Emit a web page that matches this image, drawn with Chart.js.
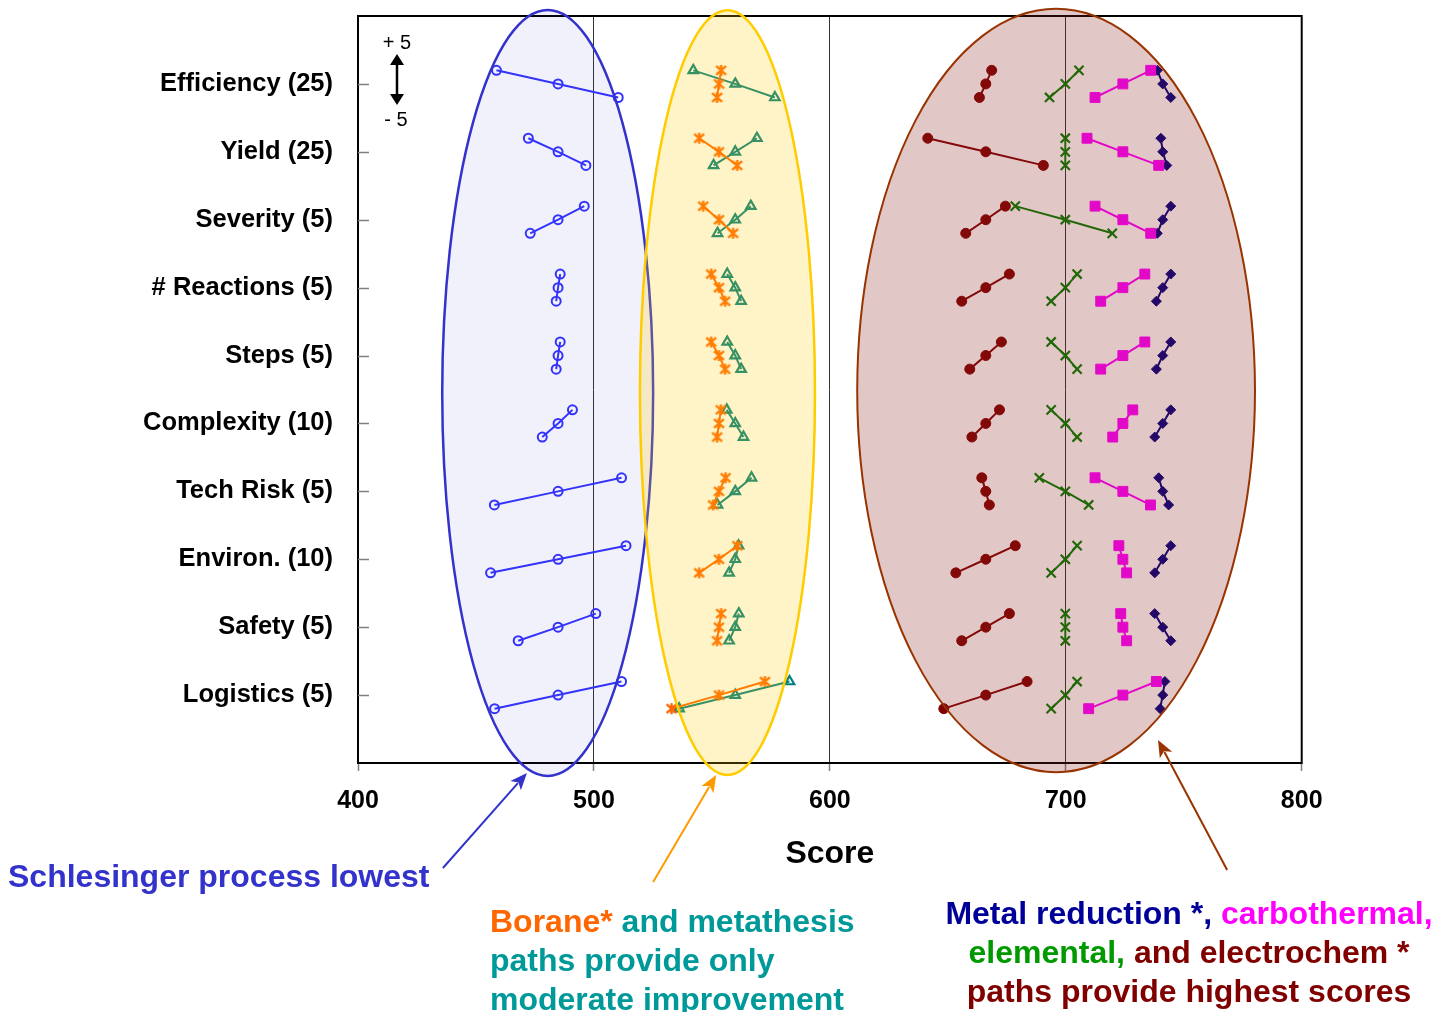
<!DOCTYPE html>
<html>
<head>
<meta charset="utf-8">
<script src="https://cdn.jsdelivr.net/npm/chart.js@4.4.1/dist/chart.umd.min.js"></script>
<style>
  html, body { margin: 0; padding: 0; background: #ffffff; overflow: hidden; }
  #wrap { position: relative; width: 1437px; height: 1012px; }
</style>
</head>
<body>
<div id="wrap"><canvas id="chart" width="1437" height="1012"></canvas></div>
<script>
// ---- data -------------------------------------------------------------
const categories = [
  'Efficiency (25)', 'Yield (25)', 'Severity (5)', '# Reactions (5)', 'Steps (5)',
  'Complexity (10)', 'Tech Risk (5)', 'Environ. (10)', 'Safety (5)', 'Logistics (5)'
];
const xTickValues = [400, 500, 600, 700, 800];

const seriesNames = ['Schlesinger', 'Borane', 'Metathesis', 'Electrochem', 'Elemental', 'Carbothermal', 'Metal reduction'];
// score with the default weights
const baseScores = [484.8, 553.0, 559.9, 666.1, 699.8, 724.2, 741.1];

// score when the criterion weight is raised by 5 / lowered by 5
const schlesingerPlus5  = [458.7, 472.2, 495.9, 485.7, 485.7, 490.9, 511.7, 513.6, 500.8, 511.7];
const schlesingerMinus5 = [510.3, 496.6, 473.0, 484.0, 484.0, 478.1, 457.8, 456.2, 467.9, 457.9];

const boranePlus5  = [553.9, 544.6, 546.3, 549.7, 549.7, 553.8, 555.8, 560.8, 553.9, 572.5];
const boraneMinus5 = [552.2, 560.7, 559.0, 555.6, 555.6, 552.2, 550.5, 544.6, 552.2, 532.9];

const metathesisPlus5  = [542.1, 569.1, 566.5, 556.5, 556.5, 556.3, 566.8, 561.3, 561.4, 582.9];
const metathesisMinus5 = [576.7, 550.7, 552.4, 562.4, 562.4, 563.4, 552.4, 557.3, 557.3, 536.1];

const electrochemPlus5  = [668.6, 641.5, 674.4, 676.1, 672.7, 671.9, 664.4, 678.6, 676.1, 683.6];
const electrochemMinus5 = [663.4, 690.5, 657.6, 655.9, 659.3, 660.2, 667.6, 653.4, 655.9, 648.3];

const elementalPlus5  = [705.6, 699.8, 678.6, 704.8, 693.8, 693.8, 688.8, 704.8, 699.8, 704.8];
const elementalMinus5 = [693.1, 699.8, 719.7, 693.8, 704.8, 704.8, 709.7, 693.8, 699.8, 693.8];

const carbothermalPlus5  = [736.0, 709.0, 712.4, 733.5, 733.5, 728.4, 712.4, 722.5, 723.3, 738.4];
const carbothermalMinus5 = [712.4, 739.4, 736.0, 714.8, 714.8, 719.9, 735.9, 725.8, 725.8, 709.7];

const metalRedPlus5  = [738.8, 740.3, 744.5, 744.5, 744.5, 744.5, 739.4, 744.5, 737.7, 742.0];
const metalRedMinus5 = [744.5, 742.8, 738.8, 738.4, 738.4, 737.7, 743.6, 737.7, 744.5, 740.0];

// ---- layout constants -------------------------------------------------
const WEIGHT_OFFSET = 0.2;          // vertical spread of the +5 / -5 points inside a row
const FONT = '"Liberation Sans", Arial, Helvetica, sans-serif';

// asterisk marker: an "x" crossed by a vertical stroke
function asteriskMarker(color, size, lw) {
  const c = document.createElement('canvas');
  c.width = size; c.height = size;
  const g = c.getContext('2d');
  g.strokeStyle = color; g.lineWidth = lw;
  const m = size / 2, a = size / 2 - 1;
  g.beginPath();
  g.moveTo(m, m - a); g.lineTo(m, m + a);
  g.moveTo(m - a * 0.9, m - a * 0.8); g.lineTo(m + a * 0.9, m + a * 0.8);
  g.moveTo(m + a * 0.9, m - a * 0.8); g.lineTo(m - a * 0.9, m + a * 0.8);
  g.stroke();
  return c;
}

// three points per row (+5, default, -5), rows separated by a gap
function rowPoints(plus, base, minus) {
  const pts = [];
  plus.forEach((p, i) => {
    const row = i + 1;
    pts.push({ x: p, y: row - WEIGHT_OFFSET });
    pts.push({ x: base, y: row });
    pts.push({ x: minus[i], y: row + WEIGHT_OFFSET });
    pts.push({ x: base, y: null });
  });
  return pts;
}

const seriesStyles = [
  { color: '#3333FF', pointStyle: 'circle',   radius: 4.5, bw: 2,   fill: 'rgba(0,0,0,0)', order: 3 },
  { color: '#FF6600', pointStyle: asteriskMarker('#FF6600', 13, 2.4), radius: 6, bw: 2, fill: 'rgba(0,0,0,0)', order: 1 },
  { color: '#008080', pointStyle: 'triangle', radius: 5.5, bw: 2.2, fill: 'rgba(0,0,0,0)', order: 2 },
  { color: '#800000', pointStyle: 'circle',   radius: 5,   bw: 1,   fill: '#800000', order: 4 },
  { color: '#008000', pointStyle: 'crossRot', radius: 6.5, bw: 2.2, fill: '#008000', order: 5 },
  { color: '#FF00FF', pointStyle: 'rect',     radius: 7,   bw: 1,   fill: '#FF00FF', order: 6 },
  { color: '#000080', pointStyle: 'rectRot',  radius: 5,   bw: 1,   fill: '#000080', order: 7 }
];

const seriesData = [
  rowPoints(schlesingerPlus5,  baseScores[0], schlesingerMinus5),
  rowPoints(boranePlus5,       baseScores[1], boraneMinus5),
  rowPoints(metathesisPlus5,   baseScores[2], metathesisMinus5),
  rowPoints(electrochemPlus5,  baseScores[3], electrochemMinus5),
  rowPoints(elementalPlus5,    baseScores[4], elementalMinus5),
  rowPoints(carbothermalPlus5, baseScores[5], carbothermalMinus5),
  rowPoints(metalRedPlus5,     baseScores[6], metalRedMinus5)
];

const datasets = seriesNames.map((name, i) => {
  const s = seriesStyles[i];
  return {
    label: name,
    data: seriesData[i],
    showLine: true,
    spanGaps: false,
    borderColor: s.color,
    borderWidth: 2,
    pointStyle: s.pointStyle,
    pointRadius: s.radius,
    pointHoverRadius: s.radius,
    pointBorderWidth: s.bw,
    pointBorderColor: s.color,
    pointBackgroundColor: s.fill,
    order: s.order
  };
});

// grouping ellipses, in score / row units
const groupEllipses = [
  { cx: 480.4, cy: 5.55,  rx: 44.7, ry: 5.64, fill: 'rgba(51,51,204,0.07)',  stroke: '#3333CC', lw: 2.5 },
  { cx: 556.6, cy: 5.545, rx: 37.1, ry: 5.63, fill: 'rgba(255,204,0,0.22)',  stroke: '#FFCC00', lw: 2.5 },
  { cx: 695.9, cy: 5.515, rx: 84.3, ry: 5.62, fill: 'rgba(140,30,30,0.25)',  stroke: '#993300', lw: 2 }
];

// callout arrows, tail -> head, in score / row units
const callouts = [
  { x0: 436.0, y0: 12.546, x1: 471.6, y1: 11.147, color: '#3333CC' },
  { x0: 525.1, y0: 12.752, x1: 551.8, y1: 11.176, color: '#FF9900' },
  { x0: 768.4, y0: 12.576, x1: 739.1, y1: 10.661, color: '#993300' }
];

// note text: [x, baseline, align, [[text, color], ...]]
const notes = [
  [8,    887,  'left',   [['Schlesinger process lowest', '#3333CC']]],
  [490,  932,  'left',   [['Borane*', '#FF6600'], [' and metathesis', '#009999']]],
  [490,  971,  'left',   [['paths provide only', '#009999']]],
  [490,  1010, 'left',   [['moderate improvement', '#009999']]],
  [1189, 924,  'center', [['Metal reduction *, ', '#000099'], ['carbothermal,', '#FF00FF']]],
  [1189, 963,  'center', [['elemental, ', '#009900'], ['and electrochem *', '#800000']]],
  [1189, 1002, 'center', [['paths provide highest scores', '#800000']]]
];

function drawArrow(ctx, x0, y0, x1, y1, color) {
  const ang = Math.atan2(y1 - y0, x1 - x0);
  const hl = 17, hw = 7;
  ctx.save();
  ctx.strokeStyle = color; ctx.fillStyle = color; ctx.lineWidth = 2;
  ctx.beginPath();
  ctx.moveTo(x0, y0);
  ctx.lineTo(x1 - Math.cos(ang) * hl * 0.8, y1 - Math.sin(ang) * hl * 0.8);
  ctx.stroke();
  ctx.beginPath();
  ctx.moveTo(x1, y1);
  ctx.lineTo(x1 - Math.cos(ang) * hl + Math.sin(ang) * hw, y1 - Math.sin(ang) * hl - Math.cos(ang) * hw);
  ctx.lineTo(x1 - Math.cos(ang) * hl * 0.75, y1 - Math.sin(ang) * hl * 0.75);
  ctx.lineTo(x1 - Math.cos(ang) * hl - Math.sin(ang) * hw, y1 - Math.sin(ang) * hl + Math.cos(ang) * hw);
  ctx.closePath();
  ctx.fill();
  ctx.restore();
}

const overlayPlugin = {
  id: 'overlay',
  afterDatasetsDraw(chart) {
    const { ctx, chartArea: a, scales: { x, y } } = chart;
    ctx.save();
    // frame
    ctx.strokeStyle = '#000'; ctx.lineWidth = 2;
    ctx.strokeRect(a.left, a.top, a.right - a.left, a.bottom - a.top);
    // row tick marks on the inside of the left edge
    ctx.strokeStyle = '#808080'; ctx.lineWidth = 1.5;
    categories.forEach((_, i) => {
      const py = Math.round(y.getPixelForValue(i + 1)) + 0.5;
      ctx.beginPath(); ctx.moveTo(a.left, py); ctx.lineTo(a.left + 11, py); ctx.stroke();
    });
    // group ellipses
    groupEllipses.forEach(e => {
      const cx = x.getPixelForValue(e.cx), cy = y.getPixelForValue(e.cy);
      const rx = Math.abs(x.getPixelForValue(e.cx + e.rx) - cx);
      const ry = Math.abs(y.getPixelForValue(e.cy + e.ry) - cy);
      ctx.beginPath(); ctx.ellipse(cx, cy, rx, ry, 0, 0, Math.PI * 2);
      ctx.fillStyle = e.fill; ctx.fill();
      ctx.strokeStyle = e.stroke; ctx.lineWidth = e.lw; ctx.stroke();
    });
    // weight-change key
    const kx = a.left + 39;
    ctx.fillStyle = '#000';
    ctx.font = '20px ' + FONT;
    ctx.textAlign = 'center'; ctx.textBaseline = 'middle';
    ctx.fillText('+ 5', kx, a.top + 27);
    ctx.fillText('- 5', kx - 1, a.top + 104);
    ctx.strokeStyle = '#000'; ctx.lineWidth = 2.5;
    ctx.beginPath(); ctx.moveTo(kx, a.top + 46); ctx.lineTo(kx, a.top + 80); ctx.stroke();
    ctx.beginPath();
    ctx.moveTo(kx, a.top + 38); ctx.lineTo(kx - 7, a.top + 49); ctx.lineTo(kx + 7, a.top + 49); ctx.closePath();
    ctx.moveTo(kx, a.top + 89); ctx.lineTo(kx - 7, a.top + 78); ctx.lineTo(kx + 7, a.top + 78); ctx.closePath();
    ctx.fill();
    ctx.restore();
  },
  afterDraw(chart) {
    const { ctx, scales: { x, y } } = chart;
    callouts.forEach(c => drawArrow(ctx,
      x.getPixelForValue(c.x0), y.getPixelForValue(c.y0),
      x.getPixelForValue(c.x1), y.getPixelForValue(c.y1), c.color));
    ctx.save();
    ctx.font = 'bold 32px ' + FONT;
    ctx.textBaseline = 'alphabetic'; ctx.textAlign = 'left';
    notes.forEach(([nx, ny, align, parts]) => {
      const total = parts.reduce((w, p) => w + ctx.measureText(p[0]).width, 0);
      let cx = align === 'center' ? nx - total / 2 : nx;
      parts.forEach(([t, col]) => {
        ctx.fillStyle = col; ctx.fillText(t, cx, ny);
        cx += ctx.measureText(t).width;
      });
    });
    ctx.restore();
  }
};

new Chart(document.getElementById('chart'), {
  type: 'scatter',
  data: { datasets },
  options: {
    responsive: false,
    animation: false,
    devicePixelRatio: 1,
    layout: { padding: { top: 16, right: 135.3, bottom: 0, left: 0 } },
    plugins: { legend: { display: false }, tooltip: { enabled: false } },
    scales: {
      x: {
        type: 'linear', position: 'bottom', min: 400, max: 800,
        afterBuildTicks: s => { s.ticks = xTickValues.map(v => ({ value: v })); },
        afterFit: s => { s.height = 249; s.paddingLeft = 0; s.paddingRight = 0; },
        border: { display: false },
        grid: { color: '#333333', lineWidth: 1, drawTicks: true, tickLength: 8, tickColor: '#808080', tickWidth: 1.5 },
        ticks: { color: '#000', padding: 15, font: { family: FONT, size: 25, weight: 'bold' } },
        title: { display: true, text: 'Score', color: '#000',
                 font: { family: FONT, size: 32, weight: 'bold' }, padding: { top: 0, bottom: 139 } }
      },
      y: {
        type: 'linear', reverse: true, min: 0, max: 11,
        afterBuildTicks: s => { s.ticks = categories.map((_, i) => ({ value: i + 1 })); },
        afterFit: s => { s.width = 358; s.paddingTop = 0; s.paddingBottom = 0; },
        border: { display: false },
        grid: { display: false, drawTicks: false },
        ticks: { color: '#000', padding: 25, autoSkip: false,
                 font: { family: FONT, size: 25.5, weight: 'bold' },
                 callback: v => categories[v - 1] }
      }
    }
  },
  plugins: [overlayPlugin]
});
</script>
</body>
</html>
